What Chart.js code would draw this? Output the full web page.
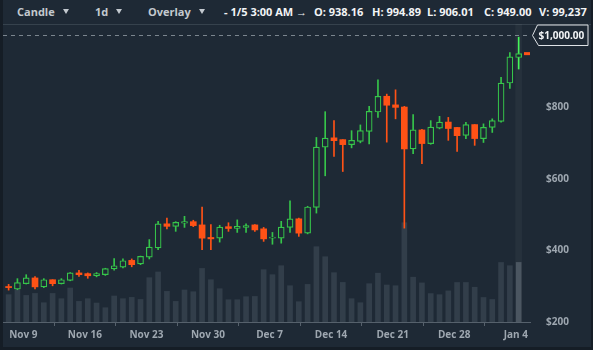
<!DOCTYPE html>
<html>
<head>
<meta charset="utf-8">
<script src="https://cdn.jsdelivr.net/npm/chart.js@4.4.1/dist/chart.umd.min.js"></script>
<style>
  html, body { margin: 0; padding: 0; background: #151d26; }
  #wrap { position: relative; width: 593px; height: 350px; overflow: hidden; font-family: "Open Sans", sans-serif; }
  #panel { position: absolute; left: 3px; top: 0; width: 588px; height: 347px; background: #1e2935; }
  #rule { position: absolute; left: 3px; top: 24px; width: 588px; height: 1px; background: #36424d; }
  #toolbar span { position: absolute; top: 0; line-height: 24px; font-size: 11px; font-weight: 700; white-space: nowrap; }
  #toolbar .menu { color: #c3c9cf; }
  #toolbar .info { color: #f2f4f6; }
  #toolbar .caret { top: 9px; width: 0; height: 0; border-left: 3.5px solid transparent; border-right: 3.5px solid transparent; border-top: 5px solid #c3c9cf; }
  canvas { position: absolute; left: 0; top: 0; }
</style>
</head>
<body>
<div id="wrap">
  <div id="panel"></div>
  <div id="rule"></div>
  <div id="toolbar"></div>
  <canvas id="priceChart" width="593" height="350"></canvas>
</div>
<script>
// Daily candles, oldest first
const opens = [299, 292, 307, 323, 298, 318, 307, 316, 337, 335, 329, 332, 348, 353, 372, 362, 381, 407, 474, 467,
  476, 480, 471, 436, 434, 466, 461, 464, 471, 460, 434, 434, 464, 488, 448, 520, 688, 714, 709, 695,
  704, 732, 786, 830, 806, 800, 683, 736, 698, 741, 758, 743, 721, 751, 712, 743, 760, 867, 938.16];
const highs = [305, 321, 332, 327, 321, 318, 321, 338, 344, 337, 338, 350, 377, 376, 376, 384, 430, 481, 490, 480,
  495, 484, 521, 472, 470, 477, 485, 474, 472, 464, 450, 481, 538, 490, 523, 715, 787, 762, 709, 734,
  750, 802, 876, 836, 848, 802, 779, 738, 762, 774, 771, 743, 757, 751, 753, 767, 883, 952, 994.89];
const lows = [289, 290, 306, 292, 296, 301, 306, 315, 327, 322, 326, 330, 345, 351, 354, 360, 376, 402, 460, 453,
  464, 466, 402, 402, 423, 453, 450, 450, 453, 425, 417, 420, 450, 439, 446, 504, 608, 662, 620, 686,
  700, 697, 771, 702, 767, 462, 670, 642, 696, 739, 707, 676, 712, 693, 701, 729, 758, 852, 906.01];
const closes = [296, 310, 323, 298, 318, 307, 318, 337, 332, 329, 335, 349, 357, 371, 360, 383, 409, 474, 467, 478,
  480, 469, 434, 432, 465, 461, 467, 469, 457, 432, 437, 465, 488, 448, 521, 688, 713, 706, 695, 707,
  734, 788, 830, 805, 799, 683, 736, 698, 744, 758, 740, 720, 751, 712, 743, 762, 867, 940, 949.00];
const volumes = [45500, 56600, 44300, 47600, 32100, 47600, 38800, 56600, 34300, 38800, 31600, 23800, 43300, 38800,
  41000, 37600, 73800, 83300, 51000, 34300, 53300, 50400, 89200, 70400, 55400, 37100, 37100, 42100, 42600,
  87100, 78800, 93700, 60400, 33800, 62600, 125400, 108700, 82100, 65900, 38800, 32100, 63800, 81300,
  61600, 60400, 165300, 74600, 65100, 47300, 45500, 51800, 65800, 65800, 57900, 40800, 37500, 99100, 93700, 99237];

// Weekly date ticks, in days counted from Nov 9
const tickLabels = ['Nov 9', 'Nov 16', 'Nov 23', 'Nov 30', 'Dec 7', 'Dec 14', 'Dec 21', 'Dec 28', 'Jan 4'];
const tickDays = [0, 7, 14, 21, 28, 35, 42, 49, 56];
// price ticks; $1,000 sits under the alert tag
const priceTicks = [200, 400, 600, 800];
// first candle opens a little before Nov 8
const firstCandleDay = -1.67;
const alertPrice = 1000;
const hoverTime = '1/5 3:00 AM';

const BG = '#1e2935';
const GREEN = '#36c54a';
const RED = '#ff5216';
const AXIS = '#56616c';
const LABEL = '#9ea7b0';

const last = opens.length - 1;
const days = opens.map((o, i) => firstCandleDay + i);
const isUp = i => closes[i] >= opens[i];

// toolbar across the top
function money(v) {
  return v.toLocaleString('en-US', { minimumFractionDigits: 2, maximumFractionDigits: 2 });
}
const toolbarItems = [
  ['menu', 'Candle', 17], ['caret', '', 63], ['menu', '1d', 95], ['caret', '', 116],
  ['menu', 'Overlay', 148], ['caret', '', 199],
  ['info', '- ' + hoverTime + ' \u2192', 224],
  ['info', 'O: ' + money(opens[last]), 314],
  ['info', 'H: ' + money(highs[last]), 372],
  ['info', 'L: ' + money(lows[last]), 427],
  ['info', 'C: ' + money(closes[last]), 484],
  ['info', 'V: ' + volumes[last].toLocaleString('en-US'), 539]
];
const toolbar = document.getElementById('toolbar');
toolbarItems.forEach(([cls, text, left]) => {
  const s = document.createElement('span');
  s.className = cls;
  s.textContent = text;
  s.style.left = left + 'px';
  toolbar.appendChild(s);
});

// dashed alert level with its tag, plus the last-price tick at the right edge
const priceMarkers = {
  id: 'priceMarkers',
  afterDraw(chart) {
    const { ctx, chartArea: a, scales: { y } } = chart;
    const ly = Math.round(y.getPixelForValue(alertPrice)) + 0.5;
    ctx.save();
    ctx.strokeStyle = '#7b858e';
    ctx.lineWidth = 1;
    ctx.setLineDash([4, 4]);
    ctx.beginPath();
    ctx.moveTo(a.left, ly);
    ctx.lineTo(a.right, ly);
    ctx.stroke();

    ctx.setLineDash([]);
    const tip = a.right + 2.5;
    ctx.beginPath();
    ctx.moveTo(tip + 5, ly - 10.5);
    ctx.lineTo(tip + 55.5, ly - 10.5);
    ctx.lineTo(tip + 55.5, ly + 10);
    ctx.lineTo(tip + 6, ly + 10);
    ctx.lineTo(tip, ly);
    ctx.closePath();
    ctx.fillStyle = BG;
    ctx.fill();
    ctx.strokeStyle = '#dfe3e7';
    ctx.stroke();
    ctx.fillStyle = '#f2f4f6';
    ctx.font = 'bold 10px "Open Sans"';
    ctx.textBaseline = 'middle';
    ctx.fillText('$' + money(alertPrice), tip + 6, ly + 0.5);

    const cy = y.getPixelForValue(closes[last]);
    ctx.fillStyle = RED;
    ctx.fillRect(a.right - 6, cy - 1.5, 6, 3);
    ctx.restore();
  }
};

const yMax = 1031.7;

new Chart(document.getElementById('priceChart'), {
  type: 'bar',
  data: {
    datasets: [
      {
        // candle bodies
        data: opens.map((o, i) => ({ x: days[i], y: [o, closes[i]] })),
        yAxisID: 'y',
        backgroundColor: c => isUp(c.dataIndex) ? BG : RED,
        borderColor: c => isUp(c.dataIndex) ? GREEN : RED,
        borderWidth: c => isUp(c.dataIndex) ? 1.2 : 0,
        borderSkipped: false,
        barThickness: 6,
        grouped: false,
        order: 0
      },
      {
        // wicks
        data: lows.map((l, i) => ({ x: days[i], y: [l, highs[i]] })),
        yAxisID: 'y',
        backgroundColor: c => c.dataIndex === last ? '#45f45a' : (isUp(c.dataIndex) ? GREEN : RED),
        barThickness: 1,
        grouped: false,
        order: 1
      },
      {
        // volume
        data: volumes.map((v, i) => ({ x: days[i], y: v })),
        yAxisID: 'vol',
        backgroundColor: c => c.dataIndex === last ? '#4b5661' : '#323e4a',
        barThickness: 5,
        grouped: false,
        order: 2
      },
      {
        // hovered day column
        data: [{ x: days[last], y: [200, yMax] }],
        yAxisID: 'y',
        backgroundColor: 'rgba(255,255,255,0.04)',
        barThickness: 6,
        grouped: false,
        order: 3
      }
    ]
  },
  options: {
    responsive: false,
    animation: false,
    layout: { padding: { top: 24, left: 3, right: 2, bottom: 3 } },
    plugins: { legend: { display: false }, tooltip: { enabled: false } },
    scales: {
      x: {
        type: 'linear',
        min: -2.31,
        max: 57.62,
        offset: false,
        afterBuildTicks: s => { s.ticks = tickDays.map(v => ({ value: v })); },
        afterFit: s => { s.height = 25; },
        grid: { drawOnChartArea: false, color: AXIS, tickLength: 4 },
        border: { color: AXIS },
        ticks: {
          color: LABEL,
          font: { family: 'Open Sans', size: 10, weight: 'bold' },
          padding: 3,
          maxRotation: 0,
          autoSkip: false,
          callback: (v, i) => tickLabels[i]
        }
      },
      y: {
        position: 'right',
        min: 200,
        max: yMax,
        afterBuildTicks: s => { s.ticks = priceTicks.map(v => ({ value: v })); },
        afterFit: s => { s.width = 61; },
        grid: { display: false },
        border: { display: false },
        ticks: {
          color: LABEL,
          padding: 8,
          font: { family: 'Open Sans', size: 10, weight: 'bold' },
          callback: v => '$' + v
        }
      },
      vol: {
        display: false,
        min: 0,
        max: 496200
      }
    }
  },
  plugins: [priceMarkers]
});
</script>
</body>
</html>
